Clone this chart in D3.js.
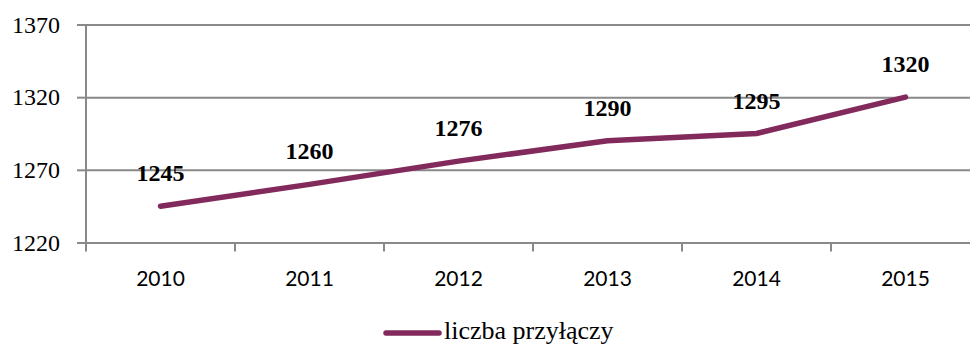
<!DOCTYPE html>
<html>
<head>
<meta charset="utf-8">
<script src="https://cdn.jsdelivr.net/npm/d3@7"></script>
<style>
  html, body { margin: 0; padding: 0; background: #fff; }
  svg { display: block; }
</style>
</head>
<body>
<svg id="chart" width="970" height="347"></svg>
<script>
// Liczba przyłączy w latach 2010–2015
const years = ["2010", "2011", "2012", "2013", "2014", "2015"];
const values = [1245, 1260, 1276, 1290, 1295, 1320];
const yTicks = [1220, 1270, 1320, 1370];
const seriesName = "liczba przyłączy";

const svg = d3.select("#chart");
const lineColor = "#832a5c";
const gridColor = "#898989";
const serif = "'Liberation Serif', 'DejaVu Serif', serif";

const plot = { left: 86, right: 980, top: 24.5, bottom: 242.5 };

const x = d3.scaleBand().domain(years).range([plot.left, plot.right]);
const y = d3.scaleLinear().domain([1220, 1370]).range([plot.bottom, plot.top]);

// horizontal gridlines with left tick marks
const yAxis = d3.axisLeft(y).tickValues(yTicks).tickFormat(d3.format("d"))
  .tickSize(9).tickPadding(17);
const gy = svg.append("g").attr("transform", `translate(${plot.left},0)`).call(yAxis);
gy.select(".domain").remove();
gy.selectAll(".tick line").attr("stroke", gridColor).attr("stroke-width", 2);
gy.selectAll(".tick")
  .append("line")
  .attr("x1", 0).attr("x2", plot.right - plot.left)
  .attr("stroke", gridColor).attr("stroke-width", 2);
gy.selectAll(".tick text")
  .attr("font-family", serif)
  .attr("font-size", 24)
  .attr("fill", "#000");

// vertical axis line
svg.append("line")
  .attr("x1", plot.left).attr("x2", plot.left)
  .attr("y1", plot.top).attr("y2", plot.bottom + 9)
  .attr("stroke", gridColor).attr("stroke-width", 2);

// bottom category axis with ticks between categories
const gx = svg.append("g").attr("transform", `translate(0,${plot.bottom})`);
gx.selectAll("line.sep")
  .data(years.slice(1))
  .join("line")
  .attr("class", "sep")
  .attr("x1", d => x(d)).attr("x2", d => x(d))
  .attr("y1", 0).attr("y2", 9)
  .attr("stroke", gridColor).attr("stroke-width", 2);
gx.selectAll("text")
  .data(years)
  .join("text")
  .attr("x", d => x(d) + x.bandwidth() / 2)
  .attr("y", 43)
  .attr("text-anchor", "middle")
  .attr("font-family", "Lato, 'Open Sans', sans-serif")
  .attr("font-size", 21)
  .attr("fill", "#000")
  .text(d => d);

// data line
const line = d3.line()
  .x((d, i) => x(years[i]) + x.bandwidth() / 2)
  .y(d => y(d));
svg.append("path")
  .datum(values)
  .attr("d", line)
  .attr("fill", "none")
  .attr("stroke", lineColor)
  .attr("stroke-width", 5.5)
  .attr("stroke-linecap", "round")
  .attr("stroke-linejoin", "round");

// value labels
svg.selectAll("text.val")
  .data(values)
  .join("text")
  .attr("class", "val")
  .attr("x", (d, i) => x(years[i]) + x.bandwidth() / 2)
  .attr("y", d => y(d) - 25)
  .attr("text-anchor", "middle")
  .attr("font-family", serif)
  .attr("font-weight", "bold")
  .attr("font-size", 24)
  .attr("fill", "#000")
  .text(d => d);

// legend
const legend = svg.append("g").attr("transform", "translate(0,333)");
legend.append("line")
  .attr("x1", 386).attr("x2", 439)
  .attr("stroke", lineColor).attr("stroke-width", 5.5)
  .attr("stroke-linecap", "round");
legend.append("text")
  .attr("x", 444).attr("y", 6)
  .attr("font-family", serif)
  .attr("font-size", 26)
  .attr("fill", "#000")
  .text(seriesName);
</script>
</body>
</html>
